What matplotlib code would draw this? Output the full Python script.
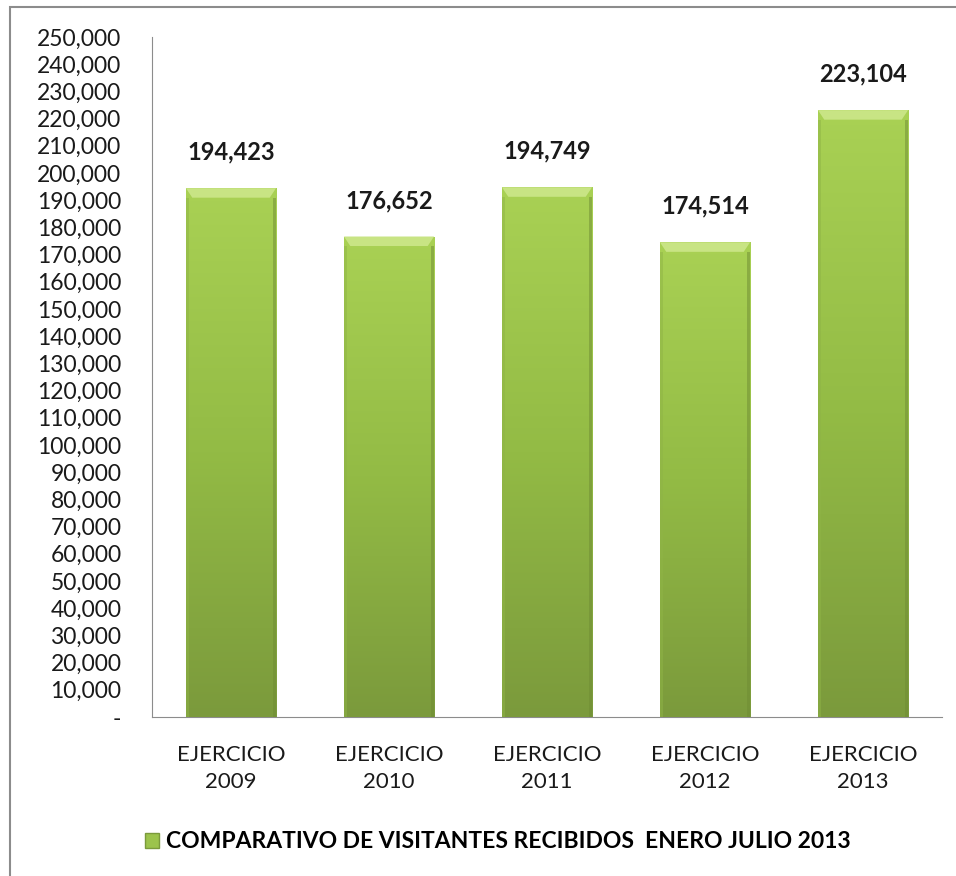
import numpy as np
import matplotlib.pyplot as plt
from matplotlib.patches import Rectangle, Polygon
from matplotlib.colors import LinearSegmentedColormap
from matplotlib.ticker import FuncFormatter

plt.rcParams['font.family'] = ['Lato', 'DejaVu Sans']

categories = ["EJERCICIO\n2009", "EJERCICIO\n2010", "EJERCICIO\n2011", "EJERCICIO\n2012", "EJERCICIO\n2013"]
visitors = [194423, 176652, 194749, 174514, 223104]
series_name = "COMPARATIVO DE VISITANTES RECIBIDOS  ENERO JULIO 2013"

fig = plt.figure(figsize=(9.56, 8.76), dpi=100)
ax = fig.add_axes([152 / 956, 1 - 717 / 876, 790 / 956, 680 / 876])

# outer chart frame
fig.patches.append(Rectangle((10 / 956, -0.1), 1.2, 1 - 7 / 876 + 0.1, transform=fig.transFigure,
                             fill=False, edgecolor='#8c8c8c', linewidth=1.5))

x = np.arange(len(categories))
width = 0.57
cmap = LinearSegmentedColormap.from_list("grn", ["#7b9a3c", "#93bb45", "#a9d154"])
grad = np.linspace(0, 1, 256).reshape(-1, 1)

bars = ax.bar(x, visitors, width=width, color='#9cc34c', zorder=2)
for b in bars:
    x0, w, h = b.get_x(), b.get_width(), b.get_height()
    im = ax.imshow(grad, cmap=cmap, aspect='auto', origin='lower',
                   extent=[x0, x0 + w, 0, h], zorder=3)
    im.set_clip_path(b)
    # bevel on top edge
    bev = 3500
    ax.add_patch(Polygon([(x0, h), (x0 + w, h), (x0 + w * 0.93, h - bev), (x0 + w * 0.07, h - bev)],
                         closed=True, facecolor='#c8e484', edgecolor='none', zorder=4))
    ax.add_patch(Rectangle((x0, 0), w * 0.03, h - bev, facecolor='#8fb446', edgecolor='none', alpha=0.5, zorder=4))
    ax.add_patch(Rectangle((x0 + w * 0.97, 0), w * 0.03, h - bev, facecolor='#6f8c34', edgecolor='none', alpha=0.5, zorder=4))
    ax.text(x0 + w / 2, h + 9000, f"{h:,.0f}", ha='center', va='bottom',
            fontsize=17, fontweight='bold', color='#1a1a1a')

ax.set_xlim(-0.5, len(categories) - 0.5)
ax.set_ylim(0, 250000)
ax.set_yticks(np.arange(0, 250001, 10000))
ax.yaxis.set_major_formatter(FuncFormatter(lambda v, p: "-" if v == 0 else f"{v:,.0f}"))
ax.set_xticks(x)
ax.set_xticklabels(categories, fontsize=16, linespacing=1.45)
ax.tick_params(axis='y', length=0, labelsize=16.5, pad=22, labelcolor='#1a1a1a')
ax.tick_params(axis='x', length=0, pad=20, labelcolor='#1a1a1a')
for s in ['top', 'right']:
    ax.spines[s].set_visible(False)
ax.spines['left'].set_color('#8c8c8c')
ax.spines['bottom'].set_color('#8c8c8c')

leg = fig.legend([Rectangle((0, 0), 1, 1, facecolor='#9cc34c', edgecolor='#7b9a3c')], [series_name],
                 loc='center', bbox_to_anchor=(498 / 956, 1 - 842 / 876), frameon=False,
                 prop={'weight': 'bold', 'size': 16.5}, handlelength=0.6, handleheight=0.6, handletextpad=0.3)

fig.savefig("out.png", dpi=100)
